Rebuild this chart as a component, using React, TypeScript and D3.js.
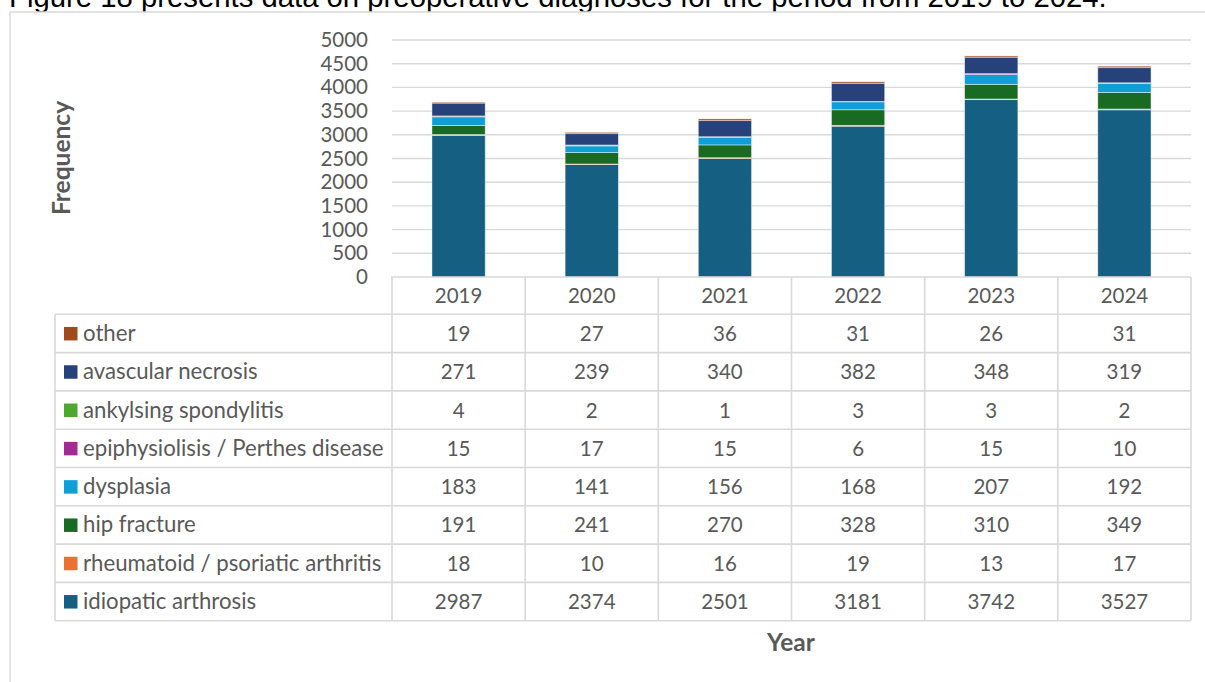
import React from 'react';
import * as d3 from 'd3';

const years = ['2019', '2020', '2021', '2022', '2023', '2024'];
const yTicks = [0, 500, 1000, 1500, 2000, 2500, 3000, 3500, 4000, 4500, 5000];

// stack order: bottom to top
const seriesNames = [
  'idiopatic arthrosis',
  'rheumatoid / psoriatic arthritis',
  'hip fracture',
  'dysplasia',
  'epiphysiolisis / Perthes disease',
  'ankylsing spondylitis',
  'avascular necrosis',
  'other',
];
const idiopatic = [2987, 2374, 2501, 3181, 3742, 3527];
const rheumatoid = [18, 10, 16, 19, 13, 17];
const hipFracture = [191, 241, 270, 328, 310, 349];
const dysplasia = [183, 141, 156, 168, 207, 192];
const epiphysiolisis = [15, 17, 15, 6, 15, 10];
const ankylsing = [4, 2, 1, 3, 3, 2];
const avascular = [271, 239, 340, 382, 348, 319];
const other = [19, 27, 36, 31, 26, 31];
const seriesValues = [idiopatic, rheumatoid, hipFracture, dysplasia, epiphysiolisis, ankylsing, avascular, other];
const seriesColors = ['#156082', '#E97132', '#196B24', '#0F9ED5', '#A02B93', '#4EA72E', '#27427A', '#9E4A1C'];

const FONT = 'Lato, "Open Sans", sans-serif';
const TXT = '#595959';
const GRID = '#d9d9d9';

export default function App() {
  const W = 1205, H = 682;
  const plotL = 392, plotR = 1191, plotT = 40, plotB = 277;
  const x = d3.scaleBand<string>().domain(years).range([plotL, plotR]).paddingInner(0.6).paddingOuter(0.3);
  const step = (plotR - plotL) / years.length;
  const y = d3.scaleLinear().domain([0, 5000]).range([plotB, plotT]);

  const rows = years.map((yr, i) => {
    const r: any = { year: yr };
    seriesNames.forEach((s, k) => (r[s] = seriesValues[k][i]));
    return r;
  });
  const stacked = d3.stack<any>().keys(seriesNames)(rows);

  const tableL = 55, labelR = 391;
  const headTop = 277, headBot = 314.3, rowH = 38.3;
  const tableRows = seriesNames.map((s, k) => ({ name: s, values: seriesValues[k], color: seriesColors[k] })).reverse();
  const tableBot = headBot + rowH * tableRows.length;
  const colEdges = years.map((_, i) => plotL + i * step).concat([plotR]);

  return (
    <svg width={W} height={H} style={{ position: 'absolute', left: 0, top: 0, background: '#fff' }}>
      <text x={9} y={7} fontFamily='"Liberation Sans", Arial, sans-serif' fontSize={29.3} fill="#000">
        Figure 18 presents data on preoperative diagnoses for the period from 2019 to 2024.
      </text>
      <rect x={10} y={12} width={1300} height={800} fill="#fff" stroke={GRID} strokeWidth={1.5} />

      {/* gridlines */}
      {yTicks.filter((t) => t > 0).map((t) => (
        <line key={t} x1={plotL} x2={plotR} y1={y(t)} y2={y(t)} stroke={GRID} strokeWidth={1.4} />
      ))}
      {/* y tick labels */}
      {yTicks.map((t) => (
        <text key={t} x={368} y={y(t) + 7} textAnchor="end" fontFamily={FONT} fontSize={20.5} fill={TXT}>
          {t}
        </text>
      ))}

      {/* bars */}
      {stacked.map((layer, k) => (
        <g key={layer.key} fill={seriesColors[k]}>
          {layer.map((d, i) => (
            <rect
              key={i}
              x={x(years[i])}
              width={x.bandwidth()}
              y={y(d[1])}
              height={Math.max(0, y(d[0]) - y(d[1]))}
              stroke="#ffffff"
              strokeOpacity={0.55}
              strokeWidth={0.8}
            />
          ))}
        </g>
      ))}

      {/* table */}
      <g stroke={GRID} strokeWidth={1.6}>
        <line x1={labelR} x2={plotR} y1={headTop} y2={headTop} />
        {d3.range(tableRows.length + 1).map((i) => (
          <line key={i} x1={tableL} x2={plotR} y1={headBot + i * rowH} y2={headBot + i * rowH} />
        ))}
        <line x1={tableL} x2={tableL} y1={headBot} y2={tableBot} />
        {colEdges.map((cx, i) => (
          <line key={i} x1={cx} x2={cx} y1={headTop} y2={tableBot} />
        ))}
      </g>
      {years.map((yr) => (
        <text key={yr} x={(x(yr) as number) + x.bandwidth() / 2} y={(headTop + headBot) / 2 + 7.5} textAnchor="middle" fontFamily={FONT} fontSize={20.5} fill={TXT}>
          {yr}
        </text>
      ))}
      {tableRows.map((r, ri) => {
        const mid = headBot + ri * rowH + rowH / 2;
        return (
          <g key={r.name}>
            <rect x={64} y={mid - 6.5} width={13.5} height={13.5} fill={r.color} />
            <text x={83} y={mid + 7.5} fontFamily={FONT} fontSize={22.2} fill={TXT}>
              {r.name}
            </text>
            {r.values.map((v, i) => (
              <text key={i} x={(x(years[i]) as number) + x.bandwidth() / 2} y={mid + 7.5} textAnchor="middle" fontFamily={FONT} fontSize={20.5} fill={TXT}>
                {v}
              </text>
            ))}
          </g>
        );
      })}

      {/* axis titles */}
      <text transform="translate(70,158) rotate(-90)" textAnchor="middle" fontFamily={FONT} fontWeight="bold" fontSize={24.5} fill={TXT}>
        Frequency
      </text>
      <text x={791} y={651} textAnchor="middle" fontFamily={FONT} fontWeight="bold" fontSize={24.5} fill={TXT}>
        Year
      </text>
    </svg>
  );
}
